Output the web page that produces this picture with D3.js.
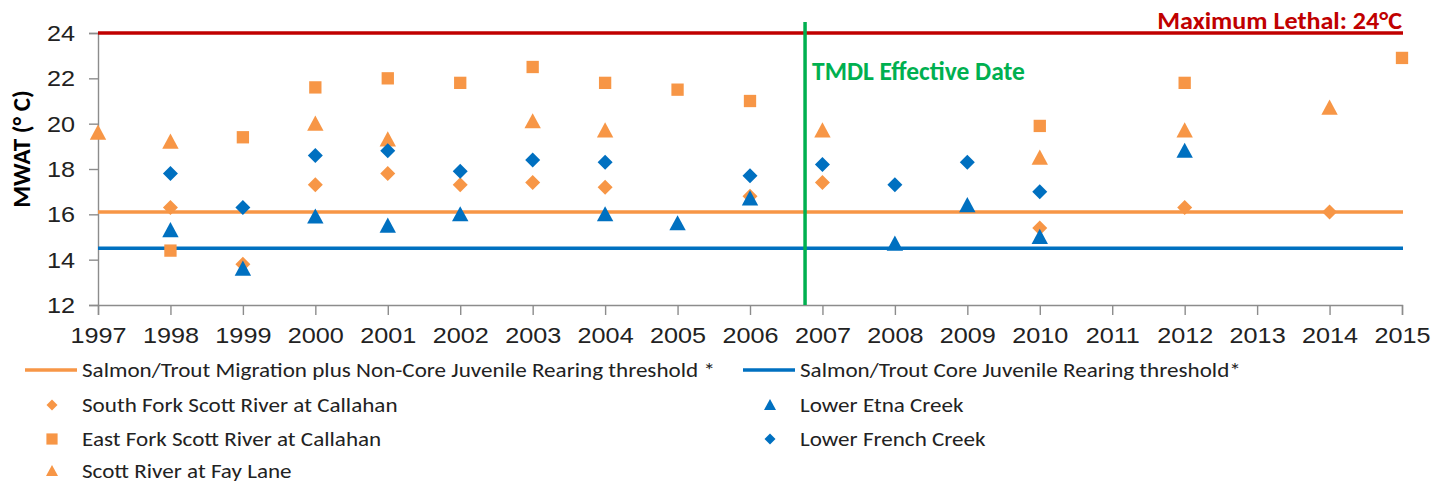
<!DOCTYPE html>
<html>
<head>
<meta charset="utf-8">
<script src="https://cdn.jsdelivr.net/npm/d3@7"></script>
<style>
  body { margin: 0; background: #fff; }
  svg { font-family: Carlito, Calibri, Lato, sans-serif; }
</style>
</head>
<body>
<div id="chart"></div>
<script>
// années (axe catégoriel, 2011 et 2013 sans mesure)
const years = ["1997","1998","1999","2000","2001","2002","2003","2004","2005","2006",
               "2007","2008","2009","2010","2011","2012","2013","2014","2015"];
const yTicks = [12, 14, 16, 18, 20, 22, 24];

// séries MWAT (°C)
const southFork = [["1998",16.3],["1999",13.8],["2000",17.3],["2001",17.8],["2002",17.3],["2003",17.4],
                   ["2004",17.2],["2006",16.8],["2007",17.4],["2010",15.4],["2012",16.3],["2014",16.1]];
const eastFork = [["1998",14.4],["1999",19.4],["2000",21.6],["2001",22.0],["2002",21.8],["2003",22.5],
                  ["2004",21.8],["2005",21.5],["2006",21.0],["2010",19.9],["2012",21.8],["2015",22.9]];
const fayLane = [["1997",19.6],["1998",19.2],["2000",20.0],["2001",19.3],["2003",20.1],["2004",19.7],
                 ["2007",19.7],["2010",18.5],["2012",19.7],["2014",20.7]];
const etna = [["1998",15.3],["1999",13.6],["2000",15.9],["2001",15.5],["2002",16.0],["2004",16.0],
              ["2005",15.6],["2006",16.7],["2008",14.7],["2009",16.4],["2010",15.0],["2012",18.8]];
const french = [["1998",17.8],["1999",16.3],["2000",18.6],["2001",18.8],["2002",17.9],["2003",18.4],
                ["2004",18.3],["2006",17.7],["2007",18.2],["2008",17.3],["2009",18.3],["2010",17.0]];

// seuils
const nonCoreThreshold = 16.1;
const coreThreshold = 14.5;
const maxLethal = 24;
const tmdlYear = "2006";   // date effective entre 2006 et 2007
const tmdlOffset = 0.76;

const orange = "#f79646", blue = "#0070c0", red = "#c00000", green = "#00b050", grey = "#8c8c8c";

const width = 1444, height = 483;
const margin = { top: 33, right: 42, bottom: 178, left: 98 };

const svg = d3.select("#chart").append("svg")
  .attr("width", width).attr("height", height);

// le texte de l'original est un peu étiré en largeur
function stretch(sel, k) {
  sel.each(function () {
    const w = this.getComputedTextLength();
    d3.select(this).attr("textLength", w * k).attr("lengthAdjust", "spacingAndGlyphs");
  });
}

const x = d3.scalePoint().domain(years).range([margin.left, width - margin.right]);
const y = d3.scaleLinear().domain([12, 24]).range([height - margin.bottom, margin.top]);

// axes
const yAxis = svg.append("g")
  .attr("transform", `translate(${margin.left},0)`)
  .call(d3.axisLeft(y).tickValues(yTicks).tickSize(9).tickPadding(14));
const xAxis = svg.append("g")
  .attr("transform", `translate(0,${height - margin.bottom})`)
  .call(d3.axisBottom(x).tickSize(10).tickPadding(11));
[xAxis, yAxis].forEach(g => {
  g.select(".domain").attr("stroke", grey).attr("stroke-width", 1.4);
  g.selectAll(".tick line").attr("stroke", grey).attr("stroke-width", 1.4);
  g.selectAll(".tick text").attr("fill", "#222").attr("font-size", 22.5).attr("font-family", null);
});
yAxis.selectAll(".tick text").attr("dy", "0.33em");
xAxis.selectAll(".tick text").attr("dy", "0.75em");
stretch(xAxis.selectAll(".tick text"), 1.12);
stretch(yAxis.selectAll(".tick text"), 1.12);

svg.append("text")
  .attr("transform", "translate(30,149) rotate(-90)")
  .attr("text-anchor", "middle")
  .attr("font-weight", "bold").attr("font-size", 25)
  .text("MWAT (° C)");

// lignes de seuil
const hLine = (v, c) => svg.append("line")
  .attr("x1", x.range()[0]).attr("x2", x.range()[1] + 1)
  .attr("y1", y(v)).attr("y2", y(v))
  .attr("stroke", c).attr("stroke-width", 3.5);
hLine(maxLethal, red);
hLine(nonCoreThreshold, orange);
hLine(coreThreshold, blue);

const xT = x(tmdlYear) + tmdlOffset * x.step();
svg.append("line")
  .attr("x1", xT).attr("x2", xT)
  .attr("y1", 22).attr("y2", y(12))
  .attr("stroke", green).attr("stroke-width", 3.5);

svg.append("text")
  .attr("x", xT + 7).attr("y", 80)
  .attr("fill", green).attr("font-weight", "bold").attr("font-size", 25.5)
  .text("TMDL Effective Date");
const lethal = svg.append("text")
  .attr("x", x.range()[1]).attr("y", 28.5)
  .attr("text-anchor", "end")
  .attr("fill", red).attr("font-weight", "bold").attr("font-size", 23.5)
  .text("Maximum Lethal: 24°C");
stretch(lethal, 1.11);

// formes des marqueurs
const shapes = {
  diamond: s => `M0,${-s}L${s},0L0,${s}L${-s},0Z`,
  square: s => `M${-s * 0.8},${-s * 0.8}h${s * 1.6}v${s * 1.6}h${-s * 1.6}Z`,
  triangle: s => `M0,${-s}L${s},${s * 0.85}L${-s},${s * 0.85}Z`
};

const series = [
  { data: southFork, color: orange, shape: "diamond", size: 7.5 },
  { data: eastFork, color: orange, shape: "square", size: 7.7 },
  { data: fayLane, color: orange, shape: "triangle", size: 8.2 },
  { data: etna, color: blue, shape: "triangle", size: 8.2 },
  { data: french, color: blue, shape: "diamond", size: 7.5 }
];

series.forEach(s => {
  svg.append("g").selectAll("path")
    .data(s.data)
    .join("path")
    .attr("transform", d => `translate(${x(d[0])},${y(d[1])})`)
    .attr("d", shapes[s.shape](s.size))
    .attr("fill", s.color);
});

// légende
const legend = svg.append("g").attr("font-size", 21).attr("fill", "#222");
const lineItems = [
  { label: "Salmon/Trout Migration plus Non-Core Juvenile Rearing threshold *", color: orange, x: 25, y: 370 },
  { label: "Salmon/Trout Core Juvenile Rearing threshold*", color: blue, x: 743, y: 370 }
];
lineItems.forEach(it => {
  legend.append("line")
    .attr("x1", it.x).attr("x2", it.x + 52)
    .attr("y1", it.y).attr("y2", it.y)
    .attr("stroke", it.color).attr("stroke-width", 3.5);
  legend.append("text").attr("x", it.x + 57).attr("y", it.y).attr("dy", "0.33em").text(it.label);
});
const markerItems = [
  { label: "South Fork Scott River at Callahan", color: orange, shape: "diamond", size: 5.5, x: 52, y: 405 },
  { label: "East Fork Scott River at Callahan", color: orange, shape: "square", size: 7, x: 52, y: 439 },
  { label: "Scott River at Fay Lane", color: orange, shape: "triangle", size: 6, x: 52, y: 471 },
  { label: "Lower Etna Creek", color: blue, shape: "triangle", size: 6, x: 770, y: 405 },
  { label: "Lower French Creek", color: blue, shape: "diamond", size: 5.5, x: 770, y: 439 }
];
markerItems.forEach(it => {
  legend.append("path")
    .attr("transform", `translate(${it.x},${it.y})`)
    .attr("d", shapes[it.shape](it.size))
    .attr("fill", it.color);
  legend.append("text").attr("x", it.x + 30).attr("y", it.y).attr("dy", "0.33em").text(it.label);
});
stretch(legend.selectAll("text"), 1.1);
</script>
</body>
</html>
